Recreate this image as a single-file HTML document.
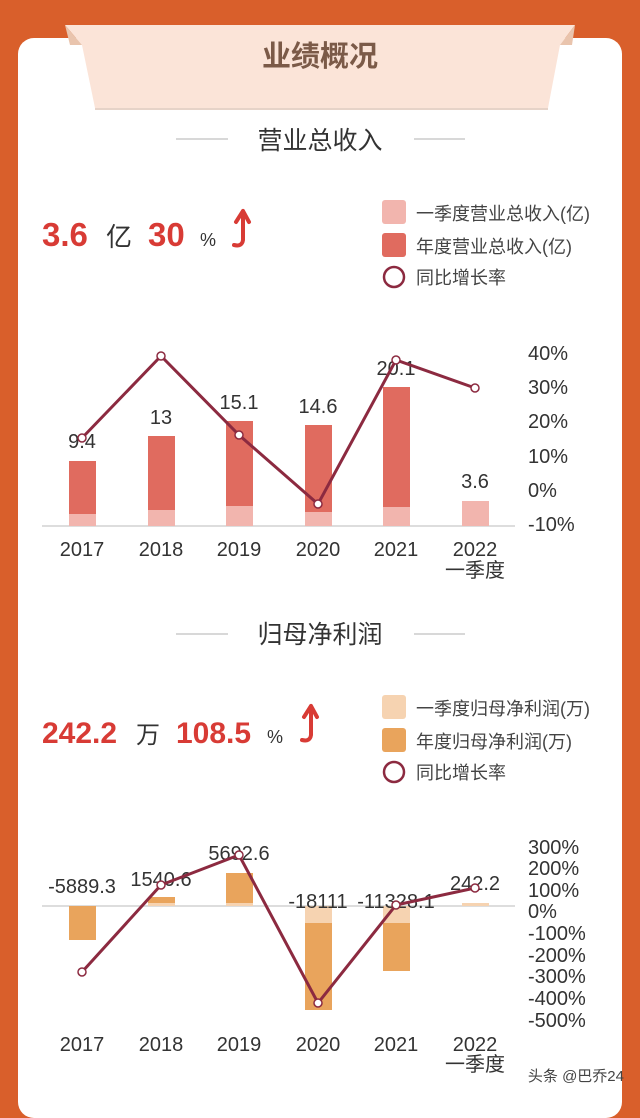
<!DOCTYPE html>
<html><head><meta charset="utf-8"><style>
body{margin:0;width:640px;height:1098px;background:#d95f2b;overflow:hidden;font-family:"Liberation Sans","Noto Sans CJK SC",sans-serif;}
.card{position:absolute;left:18px;top:38px;width:604px;height:1080px;background:#fff;border-radius:16px;}
svg{position:absolute;left:0;top:0}
</style></head><body>
<div class="card"></div>
<svg width="640" height="1098" font-family="Liberation Sans, Noto Sans CJK SC, sans-serif">
<polygon points="65,25 575,25 560,45 548,108 95,108 82,45" fill="#fbe4d8"/>
<polygon points="65,25 82,45 70,45" fill="#e9c4ad"/>
<polygon points="575,25 560,45 572,45" fill="#e9c4ad"/>
<line x1="95" y1="109" x2="548" y2="109" stroke="#e6d3c8" stroke-width="2"/>
<text x="320" y="66" font-size="29" font-weight="bold" fill="#7b5a48" text-anchor="middle">业绩概况</text>

<line x1="176" y1="139" x2="228" y2="139" stroke="#ccc" stroke-width="1.5"/>
<line x1="414" y1="139" x2="465" y2="139" stroke="#ccc" stroke-width="1.5"/>
<text x="320" y="149" font-size="25" fill="#333" text-anchor="middle">营业总收入</text>
<text x="42" y="246" font-size="33" font-weight="bold" fill="#d83b35">3.6</text>
<text x="106" y="246" font-size="26" fill="#333">亿</text>
<text x="148" y="246" font-size="33" font-weight="bold" fill="#d83b35">30</text>
<text x="200" y="246" font-size="18" fill="#333">%</text>
<path d="M243,211 L236,222 M243,211 L249,222 M243,211 L243,240 Q242,247 234,245" fill="none" stroke="#d83b35" stroke-width="4" stroke-linecap="round"/>
<rect x="382" y="200" width="24" height="24" rx="3" fill="#f2b5ae"/>
<text x="416" y="220" font-size="18" fill="#444">一季度营业总收入(亿)</text>
<rect x="382" y="233" width="24" height="24" rx="3" fill="#e06b5f"/>
<text x="416" y="253" font-size="18" fill="#444">年度营业总收入(亿)</text>
<circle cx="394" cy="277" r="10" fill="#fff" stroke="#8c2a40" stroke-width="2.5"/>
<text x="416" y="284" font-size="18" fill="#444">同比增长率</text>

<line x1="42" y1="526" x2="515" y2="526" stroke="#ddd" stroke-width="2"/>
<g fill="#e06b5f">
<rect x="69" y="461" width="27" height="65"/><rect x="148" y="436" width="27" height="90"/>
<rect x="226" y="421" width="27" height="105"/><rect x="305" y="425" width="27" height="101"/>
<rect x="383" y="387" width="27" height="139"/></g>
<g fill="#f2b5ae">
<rect x="69" y="514" width="27" height="12"/><rect x="148" y="510" width="27" height="16"/>
<rect x="226" y="506" width="27" height="20"/><rect x="305" y="512" width="27" height="14"/>
<rect x="383" y="507" width="27" height="19"/><rect x="462" y="501" width="27" height="25"/></g>
<g font-size="20" fill="#333" text-anchor="middle">
<text x="82" y="448">9.4</text><text x="161" y="424">13</text><text x="239" y="409">15.1</text>
<text x="318" y="413">14.6</text><text x="396" y="375">20.1</text><text x="475" y="488">3.6</text>
<text x="82" y="556">2017</text><text x="161" y="556">2018</text><text x="239" y="556">2019</text>
<text x="318" y="556">2020</text><text x="396" y="556">2021</text><text x="475" y="556">2022</text>
<text x="475" y="577">一季度</text></g>
<g font-size="20" fill="#333">
<text x="528" y="360">40%</text><text x="528" y="394">30%</text><text x="528" y="428">20%</text>
<text x="528" y="463">10%</text><text x="528" y="497">0%</text><text x="528" y="531">-10%</text></g>
<polyline points="82,438 161,356 239,435 318,504 396,360 475,388" fill="none" stroke="#8c2a40" stroke-width="3"/>
<g fill="#fff" stroke="#8c2a40" stroke-width="1.5">
<circle cx="82" cy="438" r="4"/><circle cx="161" cy="356" r="4"/><circle cx="239" cy="435" r="4"/>
<circle cx="318" cy="504" r="4"/><circle cx="396" cy="360" r="4"/><circle cx="475" cy="388" r="4"/></g>

<line x1="176" y1="634" x2="228" y2="634" stroke="#ccc" stroke-width="1.5"/>
<line x1="414" y1="634" x2="465" y2="634" stroke="#ccc" stroke-width="1.5"/>
<text x="320" y="643" font-size="25" fill="#333" text-anchor="middle">归母净利润</text>
<text x="42" y="743" font-size="30" font-weight="bold" fill="#d83b35">242.2</text>
<text x="136" y="743" font-size="24" fill="#333">万</text>
<text x="176" y="743" font-size="30" font-weight="bold" fill="#d83b35">108.5</text>
<text x="267" y="743" font-size="18" fill="#333">%</text>
<path d="M311,706 L304,717 M311,706 L317,717 M311,706 L311,735 Q310,742 302,740" fill="none" stroke="#d83b35" stroke-width="4" stroke-linecap="round"/>
<rect x="382" y="695" width="24" height="24" rx="3" fill="#f6d3b1"/>
<text x="416" y="715" font-size="18" fill="#444">一季度归母净利润(万)</text>
<rect x="382" y="728" width="24" height="24" rx="3" fill="#e9a45c"/>
<text x="416" y="748" font-size="18" fill="#444">年度归母净利润(万)</text>
<circle cx="394" cy="772" r="10" fill="#fff" stroke="#8c2a40" stroke-width="2.5"/>
<text x="416" y="779" font-size="18" fill="#444">同比增长率</text>

<line x1="42" y1="906" x2="515" y2="906" stroke="#ddd" stroke-width="2"/>
<g fill="#e9a45c">
<rect x="69" y="906" width="27" height="34"/><rect x="148" y="897" width="27" height="9"/>
<rect x="226" y="873" width="27" height="33"/><rect x="305" y="923" width="27" height="87"/>
<rect x="383" y="923" width="27" height="48"/></g>
<g fill="#f6d3b1">
<rect x="148" y="903" width="27" height="3"/><rect x="226" y="903" width="27" height="3"/>
<rect x="305" y="906" width="27" height="17"/><rect x="383" y="906" width="27" height="17"/>
<rect x="462" y="903" width="27" height="3"/></g>
<g font-size="20" fill="#333" text-anchor="middle">
<text x="82" y="893">-5889.3</text><text x="161" y="886">1540.6</text><text x="239" y="860">5692.6</text>
<text x="318" y="908">-18111</text><text x="396" y="908">-11328.1</text><text x="475" y="890">242.2</text>
<text x="82" y="1051">2017</text><text x="161" y="1051">2018</text><text x="239" y="1051">2019</text>
<text x="318" y="1051">2020</text><text x="396" y="1051">2021</text><text x="475" y="1051">2022</text>
<text x="475" y="1071">一季度</text></g>
<g font-size="20" fill="#333">
<text x="528" y="854">300%</text><text x="528" y="875">200%</text><text x="528" y="897">100%</text>
<text x="528" y="918">0%</text><text x="528" y="940">-100%</text><text x="528" y="962">-200%</text>
<text x="528" y="983">-300%</text><text x="528" y="1005">-400%</text><text x="528" y="1027">-500%</text></g>
<polyline points="82,972 161,885 239,855 318,1003 396,905 475,888" fill="none" stroke="#8c2a40" stroke-width="3"/>
<g fill="#fff" stroke="#8c2a40" stroke-width="1.5">
<circle cx="82" cy="972" r="4"/><circle cx="161" cy="885" r="4"/><circle cx="239" cy="855" r="4"/>
<circle cx="318" cy="1003" r="4"/><circle cx="396" cy="905" r="4"/><circle cx="475" cy="888" r="4"/></g>
<text x="624" y="1081" font-size="15" fill="#444" text-anchor="end">头条 @巴乔24</text>
</svg>
</body></html>
